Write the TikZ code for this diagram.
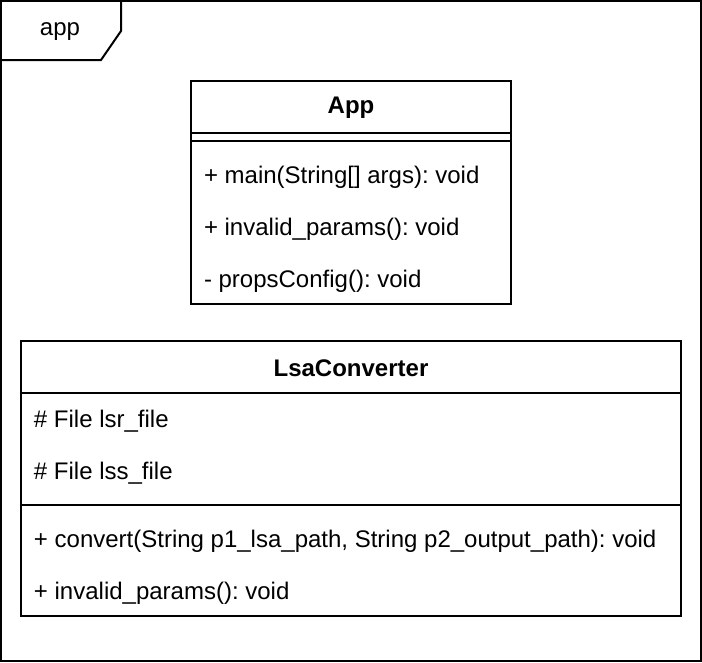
\documentclass[tikz,border=0pt]{standalone}
\usepackage{fontspec}
\setmainfont{Liberation Sans}
\begin{document}
\frenchspacing
\begin{tikzpicture}[x=1pt,y=-1pt,line width=2pt,
  txt/.style={anchor=west,inner sep=0pt,font=\fontsize{24}{28}\selectfont},
  ttl/.style={inner sep=0pt,font=\fontsize{24}{28}\selectfont\bfseries}]
\useasboundingbox (0,0) rectangle (702,662);
\draw (1,1) rectangle (701,661);
\draw (1,60) -- (101,60) -- (121,31) -- (121,1);
\node[inner sep=0pt,font=\fontsize{24}{28}\selectfont] (frame) at (60,32) {app};
% App class
\draw (191,81) rectangle (511,304);
\draw (191,133) -- (511,133);
\draw (191,141) -- (511,141);
\node[ttl] (app) at (351,108) {App};
\node[txt] (m1) at (203,177) {+ main(String[] args): void};
\node[txt] (m2) at (203,229) {+ invalid\_params(): void};
\node[txt] (m3) at (203,281) {- propsConfig(): void};
% LsaConverter
\draw (21,341) rectangle (681,616);
\draw (21,393) -- (681,393);
\draw (21,505) -- (681,505);
\node[ttl] (lsa) at (351,368) {LsaConverter};
\node[txt] (a1) at (33,421) {\# File lsr\_file};
\node[txt] (a2) at (33,473) {\# File lss\_file};
\node[txt] (c1) at (33,541) {+ convert(String p1\_lsa\_path, String p2\_output\_path): void};
\node[txt] (c2) at (33,593) {+ invalid\_params(): void};
\end{tikzpicture}
\end{document}
